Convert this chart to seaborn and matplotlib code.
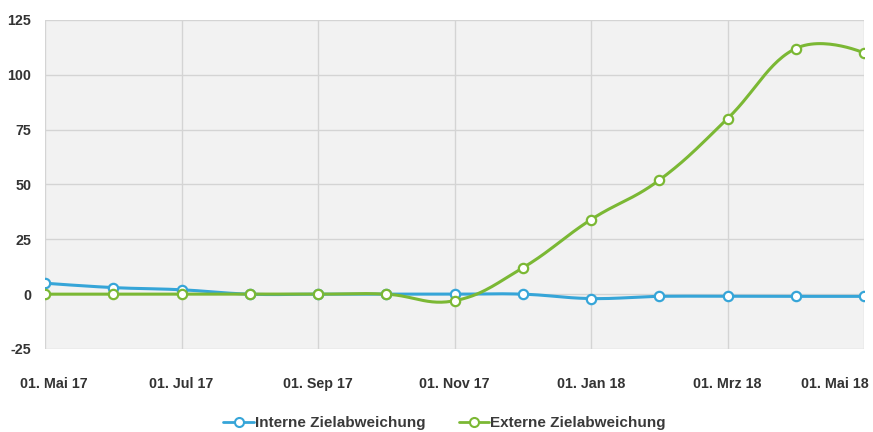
import numpy as np
import pandas as pd
import seaborn as sns
import matplotlib.pyplot as plt
import matplotlib.transforms as mtransforms
from matplotlib.lines import Line2D

# monthly values, 01. Mai 17 .. 01. Mai 18 (evenly spaced categories)
months = ['Mai 17', 'Jun 17', 'Jul 17', 'Aug 17', 'Sep 17', 'Okt 17', 'Nov 17',
          'Dez 17', 'Jan 18', 'Feb 18', 'Mrz 18', 'Apr 18', 'Mai 18']
interne = [5, 3, 2, 0, 0, 0, 0, 0, -2, -1, -1, -1, -1]
externe = [0, 0, 0, 0, 0, 0, -3, 12, 34, 52, 80, 112, 110]

tick_months = ['Mai 17', 'Jul 17', 'Sep 17', 'Nov 17', 'Jan 18', 'Mrz 18', 'Mai 18']
tick_labels = ['01. ' + m for m in tick_months]
y_ticks = [-25, 0, 25, 50, 75, 100, 125]

BLUE = '#36a5d8'
GREEN = '#7bb834'


def spline(x, y, smoothing=1.5, n=30):
    '''Highcharts-style bezier spline through the points (for drawing only).'''
    x = np.asarray(x, float)
    y = np.asarray(y, float)
    k = len(x)
    lc = [(x[i], y[i]) for i in range(k)]
    rc = [(x[i], y[i]) for i in range(k)]
    d = smoothing + 1
    for i in range(1, k - 1):
        lx = (smoothing * x[i] + x[i - 1]) / d
        ly = (smoothing * y[i] + y[i - 1]) / d
        rx = (smoothing * x[i] + x[i + 1]) / d
        ry = (smoothing * y[i] + y[i + 1]) / d
        corr = (ry - ly) * (rx - x[i]) / (rx - lx) + y[i] - ry
        lc[i] = (lx, ly + corr)
        rc[i] = (rx, ry + corr)
    t = np.linspace(0, 1, n)[:, None]
    xs, ys = [], []
    for i in range(k - 1):
        p0 = np.array([x[i], y[i]])
        p1 = np.array(rc[i])
        p2 = np.array(lc[i + 1])
        p3 = np.array([x[i + 1], y[i + 1]])
        pts = ((1 - t) ** 3) * p0 + 3 * ((1 - t) ** 2) * t * p1 + 3 * (1 - t) * t ** 2 * p2 + t ** 3 * p3
        xs.extend(pts[:, 0])
        ys.extend(pts[:, 1])
    return np.array(xs), np.array(ys)


sns.set_style('whitegrid')
plt.rcParams['font.family'] = ['Liberation Sans', 'DejaVu Sans']

fig = plt.figure(figsize=(8.73, 4.32), dpi=100)
ax = fig.add_axes([45 / 873, 1 - 349 / 432, 819 / 873, 329 / 432])
ax.set_facecolor('#f2f2f2')

df = pd.DataFrame({'month': months, 'Interne': interne, 'Externe': externe})
df['x'] = np.arange(len(df))

for col, color in [('Interne', BLUE), ('Externe', GREEN)]:
    sx, sy = spline(df['x'], df[col])
    sns.lineplot(x=sx, y=sy, ax=ax, color=color, lw=2.2, sort=False, zorder=3)
    sns.scatterplot(x=df['x'], y=df[col], ax=ax, s=45, color='white',
                    edgecolor=color, linewidth=1.6, zorder=4)

ax.set_xlim(0, len(months) - 1)
ax.set_ylim(-25, 125)
ax.set_yticks(y_ticks)
ax.set_yticklabels([str(v) for v in y_ticks])
ax.set_xticks([months.index(m) for m in tick_months])
ax.set_xticklabels(tick_labels)
ax.set_xlabel('')
ax.set_ylabel('')

ax.grid(True, color='#d4d4d4', lw=1)
for s in ax.spines.values():
    s.set_visible(False)
ax.tick_params(axis='both', length=0, labelsize=10.3, labelcolor='#333333')
ax.tick_params(axis='y', pad=10)
ax.tick_params(axis='x', pad=20)
for lab in ax.get_xticklabels() + ax.get_yticklabels():
    lab.set_fontweight('bold')

# first/last labels pushed inside the chart like the original
first = ax.get_xticklabels()[0]
first.set_horizontalalignment('left')
first.set_transform(first.get_transform() +
                    mtransforms.ScaledTranslation(-25 / 100, 0, fig.dpi_scale_trans))
last = ax.get_xticklabels()[-1]
last.set_horizontalalignment('right')
last.set_transform(last.get_transform() +
                   mtransforms.ScaledTranslation(5 / 100, 0, fig.dpi_scale_trans))

handles = [Line2D([], [], color=BLUE, lw=2, marker='o', markersize=6.5,
                  markerfacecolor='white', markeredgewidth=1.5),
           Line2D([], [], color=GREEN, lw=2, marker='o', markersize=6.5,
                  markerfacecolor='white', markeredgewidth=1.5)]
leg = fig.legend(handles, ['Interne Zielabweichung', 'Externe Zielabweichung'],
                 loc='center', bbox_to_anchor=(0.509, 1 - 423 / 432), ncol=2,
                 frameon=False, handlelength=2.0, handletextpad=0.05,
                 columnspacing=2.2, prop={'weight': 'bold', 'size': 11})
for t in leg.get_texts():
    t.set_color('#3a3a3a')

fig.savefig('out.png', dpi=100, facecolor='white')
